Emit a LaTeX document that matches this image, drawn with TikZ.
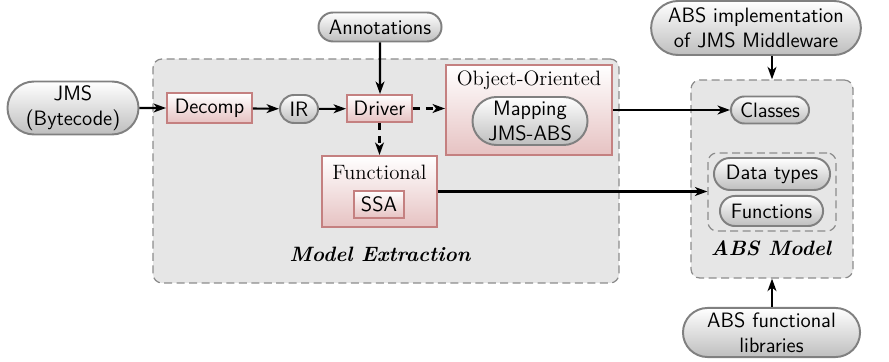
\documentclass[tikz,border=0pt]{standalone}
\usetikzlibrary{arrows.meta,shapes.misc,positioning}
\definecolor{pillline}{RGB}{128,128,128}
\definecolor{pillfill}{RGB}{190,190,190}
\definecolor{redline}{RGB}{196,128,128}
\definecolor{redfill}{RGB}{230,194,194}
\definecolor{areafill}{RGB}{230,230,230}
\definecolor{arealine}{RGB}{140,140,140}
\newcommand\diagfont{\fontsize{11.7}{14}\selectfont}
\tikzset{
  pill/.style={rounded rectangle, draw=pillline, line width=1.1pt,
    top color=white, bottom color=pillfill, inner sep=0pt,
    font=\sffamily\diagfont, align=center},
  stage/.style={rectangle, draw=redline, line width=1.1pt,
    top color=white, bottom color=redfill, inner sep=0pt,
    font=\sffamily\diagfont, align=center},
  area/.style={rectangle, rounded corners=5pt, draw=arealine,
    dash pattern=on 4.5pt off 2.5pt, line width=0.7pt, fill=areafill, inner sep=0pt},
  subarea/.style={rectangle, rounded corners=5pt, draw=arealine,
    dash pattern=on 4.5pt off 2.5pt, line width=0.7pt, inner sep=0pt},
  flow/.style={-{Stealth[length=7pt,width=5pt,inset=2pt]}, line width=1.15pt},
  dflow/.style={flow, dash pattern=on 3.8pt off 3.5pt},
  arealabel/.style={font=\bfseries\itshape\diagfont},
  serifhead/.style={font=\rmfamily\diagfont},
}
\begin{document}
\begin{tikzpicture}[x=0.5625pt,y=-0.5625pt]
\useasboundingbox (0,0) rectangle (889,362);

% grey containers
\node[area, minimum width=262.1pt, minimum height=126pt] (extract) at (386,171) {};
\node[area, minimum width=91.1pt, minimum height=111.4pt] (absmodel) at (772,179) {};
\node[subarea, minimum width=72pt, minimum height=43.9pt] (funcgrp) at (772,192) {};
\node[arealabel] (extractlbl) at (380,254) {Model Extraction};
\node[arealabel] (abslbl) at (771,248) {ABS Model};

% inputs
\node[pill, minimum width=73.7pt, minimum height=29.8pt] (jms) at (73,108) {JMS\\(Bytecode)};
\node[pill, minimum width=69.2pt, minimum height=16.3pt] (annot) at (380,27) {Annotations};
\node[pill, minimum width=118pt, minimum height=30.4pt] (absimpl) at (756,28) {ABS implementation\\of JMS Middleware};
\node[pill, minimum width=99.6pt, minimum height=27.6pt] (abslib) at (771.5,332.5) {ABS functional\\libraries};

% extraction pipeline
\node[stage, minimum width=47.8pt, minimum height=16.9pt] (decomp) at (209.5,108) {Decomp};
\node[pill, minimum width=21.4pt, minimum height=15.75pt] (ir) at (299,109) {IR};
\node[stage, minimum width=36.6pt, minimum height=15.2pt] (driver) at (379.5,108.5) {Driver};

\node[stage, minimum width=93.4pt, minimum height=50.6pt] (oo) at (529,110) {};
\node[serifhead] (oolbl) at (529,80) {Object-Oriented};
\node[pill, minimum width=64.7pt, minimum height=27pt] (mapping) at (530,121) {Mapping\\JMS-ABS};

\node[stage, minimum width=64.7pt, minimum height=40pt] (func) at (379.5,191.5) {};
\node[serifhead] (funclbl) at (379.5,172) {Functional};
\node[stage, minimum width=28.1pt, minimum height=15.2pt] (ssa) at (379,204.5) {SSA};

% ABS model content
\node[pill, minimum width=43.9pt, minimum height=15.2pt] (classes) at (770,110) {Classes};
\node[pill, minimum width=65.3pt, minimum height=18pt] (dtypes) at (772,174) {Data types};
\node[pill, minimum width=58pt, minimum height=16.9pt] (funcs) at (771.5,211) {Functions};

% connectors
\draw[flow] (jms) -- (decomp);
\draw[flow] (decomp) -- (ir);
\draw[flow] (ir) -- (driver);
\draw[flow] (annot) -- (annot |- driver.north);
\draw[dflow] (driver.east) -- (driver.east -| oo.west);
\draw[dflow] (driver.south) -- (driver.south |- func.north);
\draw[flow] (oo.east) -- (oo.east -| classes.west);
\draw[flow] (func.east) -- (func.east -| funcgrp.west);
\draw[flow] (absimpl.south -| absmodel.north) -- (absmodel.north);
\draw[flow] (abslib.north -| absmodel.south) -- (absmodel.south);
\end{tikzpicture}
\end{document}
